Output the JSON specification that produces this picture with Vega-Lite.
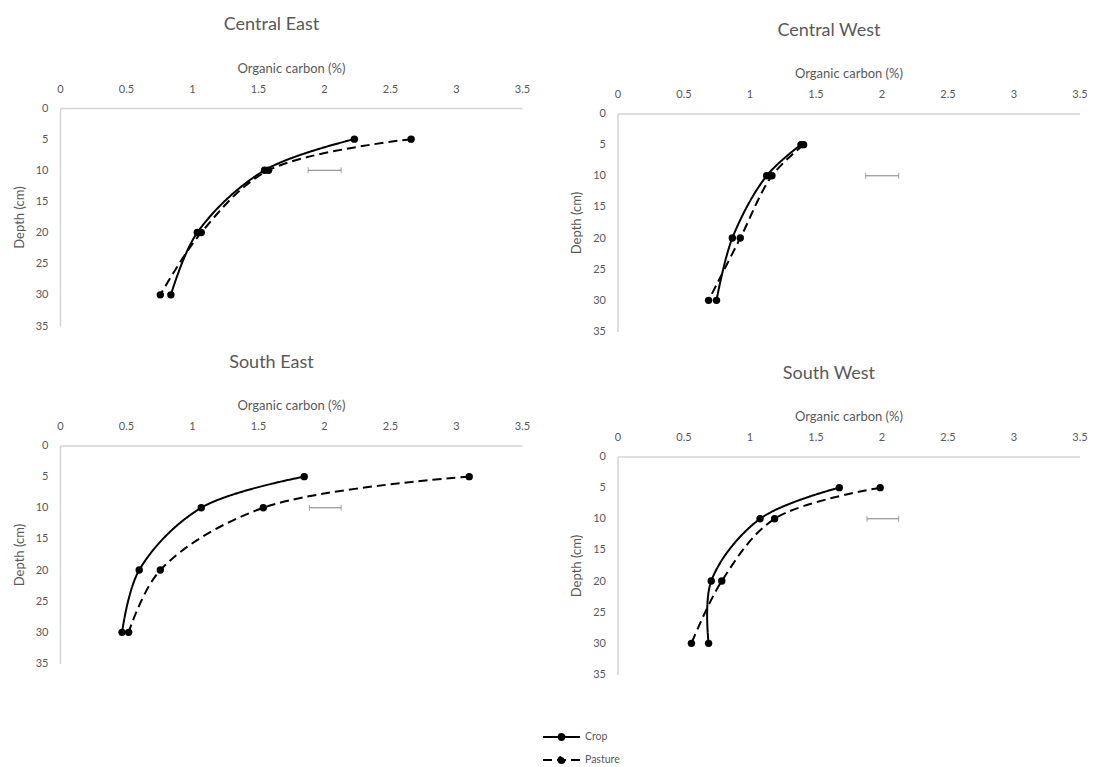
{
  "$schema": "https://vega.github.io/schema/vega-lite/v6.json",
  "padding": {"left": 13, "top": 16, "right": 5, "bottom": 0},
  "background": "white",
  "datasets": {
    "profiles": [
      {"region": "Central East", "series": "Crop", "depth": 5, "carbon": 2.23},
      {"region": "Central East", "series": "Crop", "depth": 10, "carbon": 1.55},
      {"region": "Central East", "series": "Crop", "depth": 20, "carbon": 1.04},
      {"region": "Central East", "series": "Crop", "depth": 30, "carbon": 0.84},
      {"region": "Central East", "series": "Pasture", "depth": 5, "carbon": 2.66},
      {"region": "Central East", "series": "Pasture", "depth": 10, "carbon": 1.58},
      {"region": "Central East", "series": "Pasture", "depth": 20, "carbon": 1.07},
      {"region": "Central East", "series": "Pasture", "depth": 30, "carbon": 0.76},
      {"region": "Central West", "series": "Crop", "depth": 5, "carbon": 1.39},
      {"region": "Central West", "series": "Crop", "depth": 10, "carbon": 1.13},
      {"region": "Central West", "series": "Crop", "depth": 20, "carbon": 0.87},
      {"region": "Central West", "series": "Crop", "depth": 30, "carbon": 0.75},
      {"region": "Central West", "series": "Pasture", "depth": 5, "carbon": 1.41},
      {"region": "Central West", "series": "Pasture", "depth": 10, "carbon": 1.17},
      {"region": "Central West", "series": "Pasture", "depth": 20, "carbon": 0.93},
      {"region": "Central West", "series": "Pasture", "depth": 30, "carbon": 0.69},
      {"region": "South East", "series": "Crop", "depth": 5, "carbon": 1.85},
      {"region": "South East", "series": "Crop", "depth": 10, "carbon": 1.07},
      {"region": "South East", "series": "Crop", "depth": 20, "carbon": 0.60},
      {"region": "South East", "series": "Crop", "depth": 30, "carbon": 0.47},
      {"region": "South East", "series": "Pasture", "depth": 5, "carbon": 3.10},
      {"region": "South East", "series": "Pasture", "depth": 10, "carbon": 1.54},
      {"region": "South East", "series": "Pasture", "depth": 20, "carbon": 0.76},
      {"region": "South East", "series": "Pasture", "depth": 30, "carbon": 0.52},
      {"region": "South West", "series": "Crop", "depth": 5, "carbon": 1.68},
      {"region": "South West", "series": "Crop", "depth": 10, "carbon": 1.08},
      {"region": "South West", "series": "Crop", "depth": 20, "carbon": 0.71},
      {"region": "South West", "series": "Crop", "depth": 30, "carbon": 0.69},
      {"region": "South West", "series": "Pasture", "depth": 5, "carbon": 1.99},
      {"region": "South West", "series": "Pasture", "depth": 10, "carbon": 1.19},
      {"region": "South West", "series": "Pasture", "depth": 20, "carbon": 0.79},
      {"region": "South West", "series": "Pasture", "depth": 30, "carbon": 0.56}
    ],
    "lsd": [
      {"region": "Central East", "depth": 10, "lo": 1.88, "hi": 2.13},
      {"region": "Central West", "depth": 10, "lo": 1.88, "hi": 2.13},
      {"region": "South East", "depth": 10, "lo": 1.89, "hi": 2.13},
      {"region": "South West", "depth": 10, "lo": 1.89, "hi": 2.13}
    ]
  },
  "columns": 2,
  "bounds": "flush",
  "spacing": {"column": 95.5, "row": 113.5},
  "resolve": {"scale": {"x": "independent", "y": "independent", "strokeDash": "shared"}, "legend": {"strokeDash": "shared"}},
  "concat": [
    {
      "title": {"text": "Central East"},
      "width": 462, "height": 218,
      "encoding": {
        "x": {"field": "carbon", "type": "quantitative", "scale": {"domain": [0, 3.5], "nice": false, "zero": false}, "axis": {"orient": "top", "title": "Organic carbon (%)", "values": [0, 0.5, 1, 1.5, 2, 2.5, 3, 3.5], "format": "~g", "labelPadding": 14, "titlePadding": 8, "labelFlush": false}},
        "y": {"field": "depth", "type": "quantitative", "scale": {"domain": [0, 35], "nice": false, "zero": false, "reverse": true}, "axis": {"title": "Depth (cm)", "values": [0, 5, 10, 15, 20, 25, 30, 35], "labelPadding": 12, "titlePadding": 9, "labelFlush": false}}
      },
      "layer": [
        {"data": {"name": "profiles"}, "transform": [{"filter": "datum.region === 'Central East'"}],
         "mark": {"type": "line", "interpolate": "catmull-rom", "color": "black", "strokeWidth": 2},
         "encoding": {
           "strokeDash": {"field": "series", "type": "nominal", "scale": {"domain": ["Crop", "Pasture"], "range": [[1, 0], [9, 5]]},
             "legend": {"title": null, "orient": "none", "legendX": 490.5, "legendY": 618, "direction": "vertical", "symbolType": "M-1.85,0H1.85M-0.3,0A0.3,0.3 0 1,0 0.3,0A0.3,0.3 0 1,0 -0.3,0Z", "symbolSize": 400, "symbolStrokeWidth": 2, "symbolFillColor": "black", "symbolStrokeColor": "black", "symbolOpacity": 1, "labelOffset": 12.5, "labelFontSize": 10.5, "labelColor": "#595959", "rowPadding": 5, "padding": 0}},
           "order": {"field": "depth", "type": "quantitative"}
         }},
        {"data": {"name": "profiles"}, "transform": [{"filter": "datum.region === 'Central East'"}],
         "mark": {"type": "point", "filled": true, "color": "black", "size": 55, "opacity": 1, "shape": "circle"}},
        {"data": {"name": "lsd"}, "transform": [{"filter": "datum.region === 'Central East'"}],
         "mark": {"type": "errorbar", "color": "#7f7f7f", "thickness": 1, "ticks": {"size": 6, "thickness": 1, "color": "#7f7f7f"}},
         "encoding": {"x": {"field": "lo", "type": "quantitative", "title": "Organic carbon (%)"}, "x2": {"field": "hi"}}}
      ]
    },
    {
      "title": {"text": "Central West"},
      "width": 462, "height": 223.5,
      "encoding": {
        "x": {"field": "carbon", "type": "quantitative", "scale": {"domain": [0, 3.5], "nice": false, "zero": false}, "axis": {"orient": "top", "offset": -5.5, "title": "Organic carbon (%)", "values": [0, 0.5, 1, 1.5, 2, 2.5, 3, 3.5], "format": "~g", "labelPadding": 14, "titlePadding": 8, "labelFlush": false}},
        "y": {"field": "depth", "type": "quantitative", "scale": {"domain": [0, 35], "range": [5.5, 223.5], "nice": false, "zero": false}, "axis": {"title": "Depth (cm)", "values": [0, 5, 10, 15, 20, 25, 30, 35], "labelPadding": 12, "titlePadding": 9, "labelFlush": false}}
      },
      "layer": [
        {"data": {"name": "profiles"}, "transform": [{"filter": "datum.region === 'Central West'"}],
         "mark": {"type": "line", "interpolate": "catmull-rom", "color": "black", "strokeWidth": 2},
         "encoding": {
           "strokeDash": {"field": "series", "type": "nominal", "scale": {"domain": ["Crop", "Pasture"], "range": [[1, 0], [9, 5]]},
             "legend": {"title": null, "orient": "none", "legendX": 490.5, "legendY": 618, "direction": "vertical", "symbolType": "M-1.85,0H1.85M-0.3,0A0.3,0.3 0 1,0 0.3,0A0.3,0.3 0 1,0 -0.3,0Z", "symbolSize": 400, "symbolStrokeWidth": 2, "symbolFillColor": "black", "symbolStrokeColor": "black", "symbolOpacity": 1, "labelOffset": 12.5, "labelFontSize": 10.5, "labelColor": "#595959", "rowPadding": 5, "padding": 0}},
           "order": {"field": "depth", "type": "quantitative"}
         }},
        {"data": {"name": "profiles"}, "transform": [{"filter": "datum.region === 'Central West'"}],
         "mark": {"type": "point", "filled": true, "color": "black", "size": 55, "opacity": 1, "shape": "circle"}},
        {"data": {"name": "lsd"}, "transform": [{"filter": "datum.region === 'Central West'"}],
         "mark": {"type": "errorbar", "color": "#7f7f7f", "thickness": 1, "ticks": {"size": 6, "thickness": 1, "color": "#7f7f7f"}},
         "encoding": {"x": {"field": "lo", "type": "quantitative", "title": "Organic carbon (%)"}, "x2": {"field": "hi"}}}
      ]
    },
    {
      "title": {"text": "South East"},
      "width": 462, "height": 218,
      "encoding": {
        "x": {"field": "carbon", "type": "quantitative", "scale": {"domain": [0, 3.5], "nice": false, "zero": false}, "axis": {"orient": "top", "title": "Organic carbon (%)", "values": [0, 0.5, 1, 1.5, 2, 2.5, 3, 3.5], "format": "~g", "labelPadding": 14, "titlePadding": 8, "labelFlush": false}},
        "y": {"field": "depth", "type": "quantitative", "scale": {"domain": [0, 35], "nice": false, "zero": false, "reverse": true}, "axis": {"title": "Depth (cm)", "values": [0, 5, 10, 15, 20, 25, 30, 35], "labelPadding": 12, "titlePadding": 9, "labelFlush": false}}
      },
      "layer": [
        {"data": {"name": "profiles"}, "transform": [{"filter": "datum.region === 'South East'"}],
         "mark": {"type": "line", "interpolate": "catmull-rom", "color": "black", "strokeWidth": 2},
         "encoding": {
           "strokeDash": {"field": "series", "type": "nominal", "scale": {"domain": ["Crop", "Pasture"], "range": [[1, 0], [9, 5]]},
             "legend": {"title": null, "orient": "none", "legendX": 490.5, "legendY": 618, "direction": "vertical", "symbolType": "M-1.85,0H1.85M-0.3,0A0.3,0.3 0 1,0 0.3,0A0.3,0.3 0 1,0 -0.3,0Z", "symbolSize": 400, "symbolStrokeWidth": 2, "symbolFillColor": "black", "symbolStrokeColor": "black", "symbolOpacity": 1, "labelOffset": 12.5, "labelFontSize": 10.5, "labelColor": "#595959", "rowPadding": 5, "padding": 0}},
           "order": {"field": "depth", "type": "quantitative"}
         }},
        {"data": {"name": "profiles"}, "transform": [{"filter": "datum.region === 'South East'"}],
         "mark": {"type": "point", "filled": true, "color": "black", "size": 55, "opacity": 1, "shape": "circle"}},
        {"data": {"name": "lsd"}, "transform": [{"filter": "datum.region === 'South East'"}],
         "mark": {"type": "errorbar", "color": "#7f7f7f", "thickness": 1, "ticks": {"size": 6, "thickness": 1, "color": "#7f7f7f"}},
         "encoding": {"x": {"field": "lo", "type": "quantitative", "title": "Organic carbon (%)"}, "x2": {"field": "hi"}}}
      ]
    },
    {
      "title": {"text": "South West"},
      "width": 462, "height": 229,
      "encoding": {
        "x": {"field": "carbon", "type": "quantitative", "scale": {"domain": [0, 3.5], "nice": false, "zero": false}, "axis": {"orient": "top", "offset": -11, "title": "Organic carbon (%)", "values": [0, 0.5, 1, 1.5, 2, 2.5, 3, 3.5], "format": "~g", "labelPadding": 14, "titlePadding": 8, "labelFlush": false}},
        "y": {"field": "depth", "type": "quantitative", "scale": {"domain": [0, 35], "range": [11, 229], "nice": false, "zero": false}, "axis": {"title": "Depth (cm)", "values": [0, 5, 10, 15, 20, 25, 30, 35], "labelPadding": 12, "titlePadding": 9, "labelFlush": false}}
      },
      "layer": [
        {"data": {"name": "profiles"}, "transform": [{"filter": "datum.region === 'South West'"}],
         "mark": {"type": "line", "interpolate": "catmull-rom", "color": "black", "strokeWidth": 2},
         "encoding": {
           "strokeDash": {"field": "series", "type": "nominal", "scale": {"domain": ["Crop", "Pasture"], "range": [[1, 0], [9, 5]]},
             "legend": {"title": null, "orient": "none", "legendX": 490.5, "legendY": 618, "direction": "vertical", "symbolType": "M-1.85,0H1.85M-0.3,0A0.3,0.3 0 1,0 0.3,0A0.3,0.3 0 1,0 -0.3,0Z", "symbolSize": 400, "symbolStrokeWidth": 2, "symbolFillColor": "black", "symbolStrokeColor": "black", "symbolOpacity": 1, "labelOffset": 12.5, "labelFontSize": 10.5, "labelColor": "#595959", "rowPadding": 5, "padding": 0}},
           "order": {"field": "depth", "type": "quantitative"}
         }},
        {"data": {"name": "profiles"}, "transform": [{"filter": "datum.region === 'South West'"}],
         "mark": {"type": "point", "filled": true, "color": "black", "size": 55, "opacity": 1, "shape": "circle"}},
        {"data": {"name": "lsd"}, "transform": [{"filter": "datum.region === 'South West'"}],
         "mark": {"type": "errorbar", "color": "#7f7f7f", "thickness": 1, "ticks": {"size": 6, "thickness": 1, "color": "#7f7f7f"}},
         "encoding": {"x": {"field": "lo", "type": "quantitative", "title": "Organic carbon (%)"}, "x2": {"field": "hi"}}}
      ]
    }
  ],
  "config": {
    "font": "Lato",
    "view": {"stroke": null},
    "title": {"fontSize": 18, "fontWeight": "normal", "color": "#595959", "anchor": "middle", "frame": "bounds", "offset": 28, "font": "Lato"},
    "axis": {"labelColor": "#595959", "titleColor": "#595959", "labelFontSize": 11, "titleFontSize": 13, "titleFontWeight": "normal", "ticks": false, "grid": false, "domainColor": "#d4d4d4", "domainWidth": 1.5, "labelFont": "Lato", "titleFont": "Lato"},
    "legend": {"labelFont": "Lato"}
  }
}
